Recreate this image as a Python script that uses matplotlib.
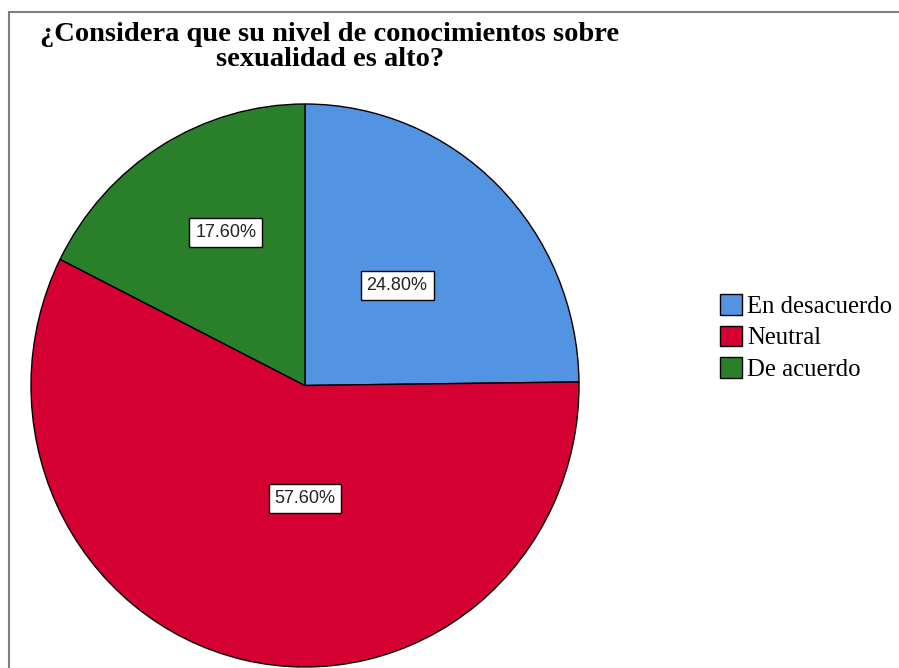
import matplotlib
matplotlib.use("Agg")
import matplotlib.pyplot as plt
import numpy as np
from matplotlib.patches import Rectangle

title_lines = ["¿Considera que su nivel de conocimientos sobre", "sexualidad es alto?"]
categories = ["En desacuerdo", "Neutral", "De acuerdo"]
values = [24.8, 57.6, 17.6]
labels = ["24.80%", "57.60%", "17.60%"]
colors = ["#5294E2", "#D50032", "#2A7F2A"]

W, H = 899, 668
fig = plt.figure(figsize=(W / 100, H / 100), dpi=100)

# figure border (partially visible frame)
fig.add_artist(Rectangle((9 / W, -0.1), 1.2, (H - 12) / H + 0.1, transform=fig.transFigure,
                         fill=False, edgecolor="#808080", linewidth=1.5))

# pie axes placed in pixel space
x0, x1, y0, y1 = 31, 579, 104, 667
ax = fig.add_axes([x0 / W, 1 - y1 / H, (x1 - x0) / W, (y1 - y0) / H])
wedges, _ = ax.pie(values, colors=colors, startangle=90, counterclock=False,
                   wedgeprops=dict(edgecolor="black", linewidth=1.0))
ax.set_aspect("auto")
ax.set_xlim(-1, 1)
ax.set_ylim(-1, 1)
ax.axis("off")

# label placement (angle in degrees, radius fraction) for each wedge
label_pos = [(46.7, 0.49), (-90.0, 0.40), (118.0, 0.615)]
for lab, (ang, r) in zip(labels, label_pos):
    a = np.deg2rad(ang)
    ax.text(r * np.cos(a), r * np.sin(a), lab, ha="center", va="center",
            fontsize=13, family="Liberation Sans", color="#222222",
            bbox=dict(boxstyle="square,pad=0.33", facecolor="white",
                      edgecolor="black", linewidth=1.0))

for line, base in zip(title_lines, [41, 66]):
    fig.text(330 / W, 1 - base / H, line, ha="center", va="baseline", fontsize=20.5,
             fontweight="bold", family="Liberation Serif")

leg = fig.legend(wedges, categories, loc="upper left",
                 bbox_to_anchor=(720 / W, 1 - 294 / H),
                 prop=dict(family="Liberation Serif", size=17.8),
                 frameon=False, handlelength=0.9, handleheight=0.9,
                 handletextpad=0.2, labelspacing=0.32, borderpad=0.0,
                 borderaxespad=0.0)

fig.savefig("out.png", dpi=100)
